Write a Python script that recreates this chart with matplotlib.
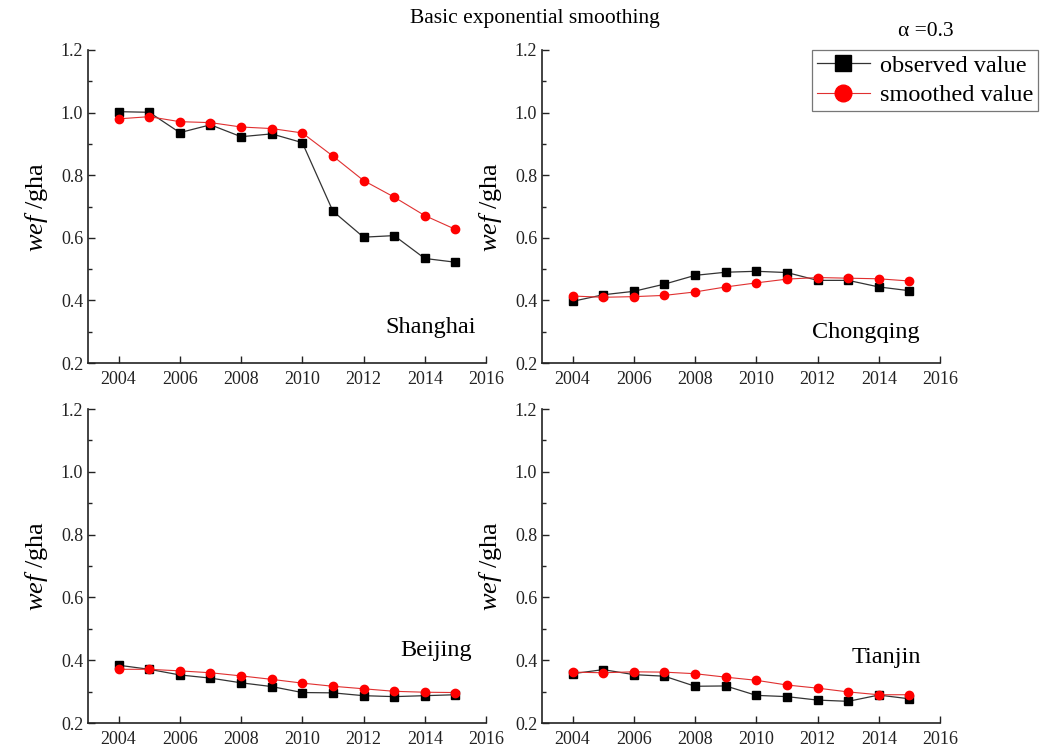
import matplotlib
matplotlib.use("Agg")
import matplotlib.pyplot as plt
from matplotlib.ticker import MultipleLocator

plt.rcParams['font.family'] = ['Liberation Serif', 'DejaVu Serif']
plt.rcParams['mathtext.fontset'] = 'custom'
plt.rcParams['mathtext.rm'] = 'Liberation Serif'
plt.rcParams['mathtext.it'] = 'Liberation Serif:italic'

years = [2004, 2005, 2006, 2007, 2008, 2009, 2010, 2011, 2012, 2013, 2014, 2015]

shanghai_obs = [1.003, 1.001, 0.936, 0.961, 0.923, 0.932, 0.904, 0.685, 0.602, 0.607, 0.534, 0.522]
shanghai_smooth = [0.980, 0.987, 0.971, 0.968, 0.954, 0.949, 0.935, 0.861, 0.783, 0.730, 0.671, 0.627]

chongqing_obs = [0.397, 0.418, 0.429, 0.452, 0.480, 0.490, 0.493, 0.489, 0.464, 0.464, 0.443, 0.431]
chongqing_smooth = [0.414, 0.410, 0.412, 0.416, 0.427, 0.443, 0.456, 0.468, 0.473, 0.471, 0.469, 0.462]

beijing_obs = [0.384, 0.371, 0.353, 0.343, 0.328, 0.316, 0.297, 0.296, 0.287, 0.284, 0.287, 0.290]
beijing_smooth = [0.371, 0.371, 0.366, 0.360, 0.350, 0.339, 0.327, 0.317, 0.309, 0.301, 0.298, 0.297]

tianjin_obs = [0.357, 0.370, 0.354, 0.349, 0.317, 0.318, 0.288, 0.284, 0.273, 0.269, 0.289, 0.277]
tianjin_smooth = [0.362, 0.360, 0.363, 0.362, 0.357, 0.346, 0.336, 0.321, 0.311, 0.299, 0.290, 0.290]

cities = ["Shanghai", "Chongqing", "Beijing", "Tianjin"]
observed = [shanghai_obs, chongqing_obs, beijing_obs, tianjin_obs]
smoothed = [shanghai_smooth, chongqing_smooth, beijing_smooth, tianjin_smooth]

fig = plt.figure(figsize=(10.4, 7.49), dpi=100)

W, H = 1040, 749
boxes = [(88, 50, 486, 363), (542, 50, 940, 363), (88, 409, 486, 723), (542, 409, 940, 723)]
label_pos = [(0.862, 0.115), (0.814, 0.099), (0.874, 0.232), (0.864, 0.21)]

axes = []
for i, (l, t, r, b) in enumerate(boxes):
    ax = fig.add_axes([l / W, 1 - b / H, (r - l) / W, (b - t) / H])
    axes.append(ax)
    ax.plot(years, observed[i], color='#333333', lw=0.9, marker='s', ms=5.5,
            mfc='black', mec='black', label='observed value')
    ax.plot(years, smoothed[i], color='#e03030', lw=0.8, marker='o', ms=6,
            mfc='#ff0000', mec='#ff0000', label='smoothed value')
    ax.set_xlim(2003, 2016)
    ax.set_ylim(0.2, 1.2)
    ax.xaxis.set_major_locator(MultipleLocator(2))
    ax.yaxis.set_major_locator(MultipleLocator(0.2))
    ax.yaxis.set_minor_locator(MultipleLocator(0.1))
    ax.yaxis.set_major_formatter(plt.FuncFormatter(lambda v, p: f"{v:.1f}"))
    ax.tick_params(direction='in', which='both', labelsize=13, width=1, colors='#222222')
    ax.tick_params(which='major', length=5)
    ax.tick_params(which='minor', length=3)
    ax.tick_params(axis='x', pad=6)
    for s in ['top', 'right']:
        ax.spines[s].set_visible(False)
    for s in ['left', 'bottom']:
        ax.spines[s].set_linewidth(1.2)
        ax.spines[s].set_color('#222222')
    ax.set_ylabel(r'$\mathit{wef}$ /gha', fontsize=19, labelpad=8)
    ax.text(label_pos[i][0], label_pos[i][1], cities[i], transform=ax.transAxes,
            fontsize=17.5, ha='center', va='center')

fig.text(535 / W, 1 - 18 / H, 'Basic exponential smoothing', fontsize=15.5, ha='center', va='center')
fig.text(926 / W, 1 - 31 / H, 'α =0.3', fontsize=15.5, ha='center', va='center')

h, lab = axes[1].get_legend_handles_labels()
leg = fig.legend(h, lab, loc='upper right', bbox_to_anchor=(1038 / W, 1 - 50 / H),
                 fontsize=17.5, frameon=True, fancybox=False, edgecolor='#555555',
                 handlelength=2.2, borderpad=0.2, labelspacing=0.3, handletextpad=0.4,
                 borderaxespad=0, markerscale=2.0)
leg.get_frame().set_linewidth(0.9)

fig.savefig('out.png', dpi=100, facecolor='white')
